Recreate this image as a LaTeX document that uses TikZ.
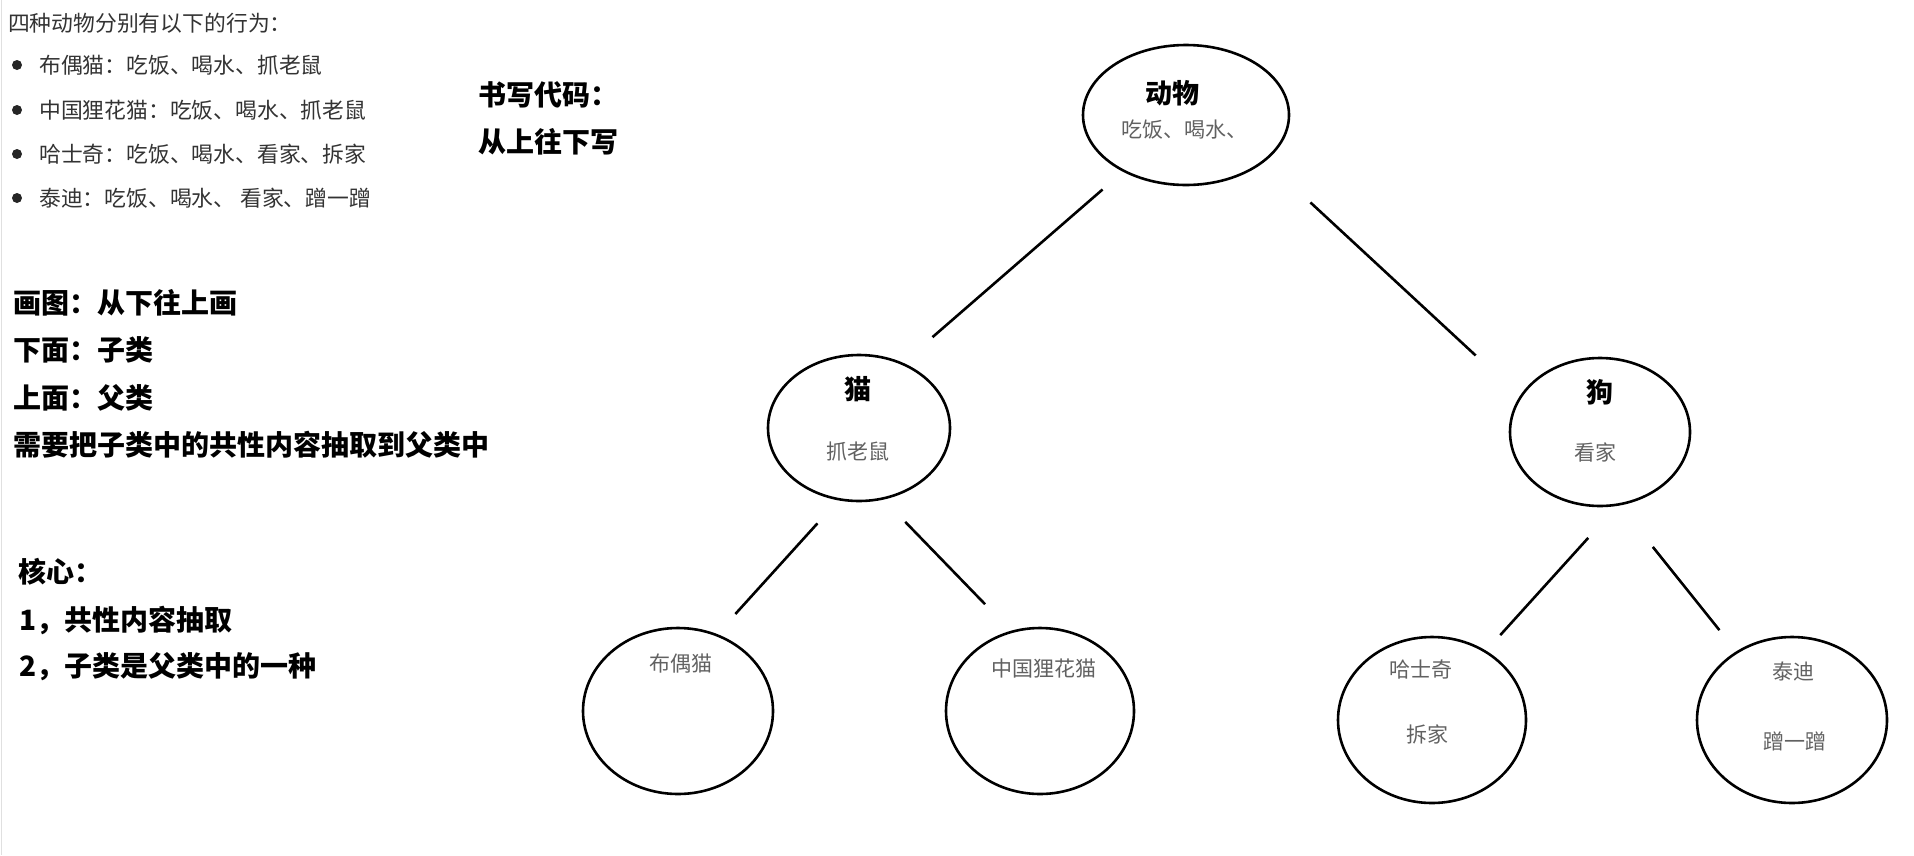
\documentclass[tikz,border=0pt]{standalone}
\usepackage{fontspec}
\setmainfont{Noto Sans CJK SC}
\usetikzlibrary{shapes.geometric}

\tikzset{
  blob/.style={draw, ellipse, line width=2.6pt, inner sep=0pt},
  link/.style={line width=2.6pt},
  title/.style={inner sep=0pt, font=\bfseries\fontsize{27}{30}\selectfont},
  duty/.style={inner sep=0pt, text=black!62, font=\fontsize{21}{24}\selectfont},
  note/.style={anchor=west, inner sep=0pt, text=black!80, font=\fontsize{21.8}{24}\selectfont},
  head/.style={anchor=west, inner sep=0pt, font=\bfseries\fontsize{28}{32}\selectfont},
  dot/.style={circle, fill=black!85, inner sep=0pt, minimum size=10pt},
}

\begin{document}
\begin{tikzpicture}[x=1pt,y=-1pt]
    \useasboundingbox (0,0) rectangle (1914,855);
    \draw[black!12, line width=1.5pt] (1.5,0) -- (1.5,855);
    % left column: the four animals
    \node[note] (intro) at (8,23) {四种动物分别有以下的行为：};
    \foreach \y/\t [count=\i] in {65/布偶猫：吃饭、喝水、抓老鼠, 110/中国狸花猫：吃饭、喝水、抓老鼠,
                                  154/哈士奇：吃饭、喝水、看家、拆家, 198/泰迪：吃饭、喝水、\ 看家、蹭一蹭} {
      \node[dot] (dot\i) at (17,\y) {};
      \node[note] (item\i) at (39,\y) {\t};
    }
    \node[head] (paint) at (13,303) {画图：从下往上画};
    \node[head] (below) at (13,350) {下面：子类};
    \node[head] (above) at (13,398) {上面：父类};
    \node[head] (pull) at (13,445) {需要把子类中的共性内容抽取到父类中};
    \node[head] (core) at (18,572) {核心：};
    \node[head] (core1) at (19,620) {1，共性内容抽取};
    \node[head] (core2) at (19,667) {2，子类是父类中的一种};
    \node[head] (code) at (478,95) {书写代码：};
    \node[head] (code2) at (478,142) {从上往下写};
    % the tree
    \node[blob, minimum width=206pt, minimum height=140pt] (animal) at (1186,115) {};
    \node[blob, minimum width=182pt, minimum height=146pt] (cat) at (859,428) {};
    \node[blob, minimum width=180pt, minimum height=148pt] (dog) at (1600,432) {};
    \node[blob, minimum width=190pt, minimum height=166pt] (ragdoll) at (678,711) {};
    \node[blob, minimum width=188pt, minimum height=166pt] (lihua) at (1040,711) {};
    \node[blob, minimum width=188pt, minimum height=166pt] (husky) at (1432,720) {};
    \node[blob, minimum width=190pt, minimum height=166pt] (teddy) at (1792,720) {};
    \node[title] (animalname) at (1172,93) {动物};
    \node[duty] (animaldo) at (1184,130) {吃饭、喝水、};
    \node[title] (catname) at (858,389) {猫};
    \node[duty] (catdo) at (858,451) {抓老鼠};
    \node[title] (dogname) at (1600,392) {狗};
    \node[duty] (dogdo) at (1595,452) {看家};
    \node[duty] (ragdollname) at (681,664) {布偶猫};
    \node[duty] (lihuaname) at (1044,669) {中国狸花猫};
    \node[duty] (huskyname) at (1421,670) {哈士奇};
    \node[duty] (huskydo) at (1427,734) {拆家};
    \node[duty] (teddyname) at (1793,672) {泰迪};
    \node[duty] (teddydo) at (1795,741) {蹭一蹭};
    \draw[link, shorten <=27pt, shorten >=39pt] (animal.222) -- (cat.56);
    \draw[link, shorten <=61pt, shorten >=60pt] (animal.-30) -- (dog.156);
    \draw[link, shorten <=31pt, shorten >=27pt] (cat.254) -- (ragdoll.63);
    \draw[link, shorten <=31pt, shorten >=37pt] (cat.-71) -- (lihua.110);
    \draw[link, shorten <=43pt, shorten >=21pt] (dog.-77) -- (husky.52);
    \draw[link, shorten <=53pt, shorten >=27pt] (dog.-75) -- (teddy.129);
\end{tikzpicture}
\end{document}
